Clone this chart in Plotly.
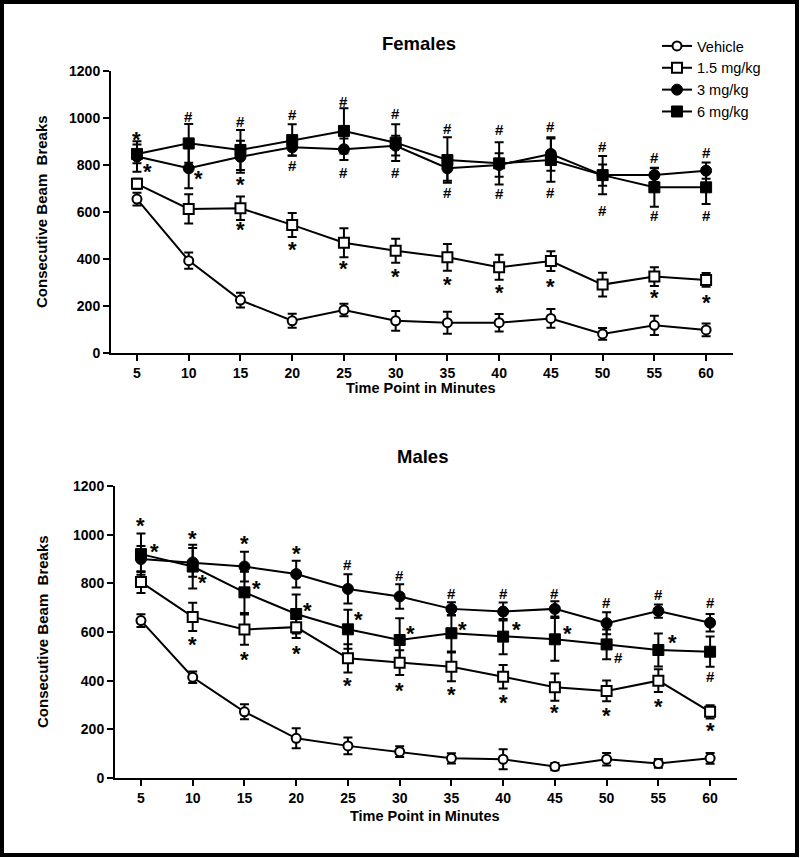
import plotly.graph_objects as go

# ---------------- data ----------------
time = [5, 10, 15, 20, 25, 30, 35, 40, 45, 50, 55, 60]
series_names = ["Vehicle", "1.5 mg/kg", "3 mg/kg", "6 mg/kg"]

# Females
f_vehicle = [655, 393, 225, 137, 183, 137, 129, 129, 147, 81, 118, 98]
f_vehicle_err = [27, 35, 31, 30, 27, 42, 47, 37, 40, 25, 41, 27]
f_15 = [720, 613, 616, 545, 469, 435, 407, 365, 391, 291, 325, 311]
f_15_err = [22, 62, 50, 51, 62, 51, 57, 53, 42, 51, 40, 29]
f_3 = [836, 786, 835, 875, 867, 882, 786, 800, 847, 757, 757, 776]
f_3_err = [65, 85, 68, 35, 46, 42, 53, 50, 71, 45, 29, 35]
f_6 = [847, 892, 864, 906, 945, 895, 821, 807, 821, 757, 705, 705]
f_6_err = [40, 82, 85, 67, 96, 78, 97, 90, 92, 81, 83, 71]

# Males
m_vehicle = [647, 414, 272, 163, 132, 108, 81, 77, 47, 77, 60, 81]
m_vehicle_err = [26, 24, 31, 41, 34, 22, 21, 41, 15, 26, 18, 22]
m_15 = [805, 662, 610, 620, 492, 474, 457, 416, 373, 358, 400, 272]
m_15_err = [45, 58, 62, 45, 58, 51, 59, 48, 56, 43, 47, 27]
m_3 = [900, 886, 869, 838, 777, 746, 695, 684, 695, 636, 686, 638]
m_3_err = [53, 59, 61, 55, 60, 50, 27, 37, 31, 45, 27, 36]
m_6 = [920, 869, 763, 674, 611, 567, 595, 581, 570, 549, 526, 519]
m_6_err = [85, 90, 85, 80, 80, 89, 75, 72, 88, 61, 68, 62]

# significance marks (x in minutes, y in beam breaks, symbol)
f_sig_x = [5, 6.06, 10, 10.9, 15, 15, 15, 20, 20, 20, 25, 25, 25, 30, 30, 30,
           35, 35, 35, 40, 40, 40, 45, 45, 45, 50, 50, 55, 55, 55, 60, 60, 60]
f_sig_y = [923, 787, 1008, 754, 984, 729, 537, 1016, 797, 452, 1072, 769, 374,
           1020, 770, 340, 957, 681, 303, 949, 677, 272, 962, 681, 294, 877, 608,
           830, 583, 247, 855, 587, 226]
f_sig_t = ["*", "*", "#", "*", "#", "*", "*", "#", "#", "*", "#", "#", "*", "#", "#", "*",
           "#", "#", "*", "#", "#", "*", "#", "#", "*", "#", "#", "#", "#", "*", "#", "#", "*"]

m_sig_x = [5, 6.29, 10, 10.94, 10, 15, 16.13, 15, 20, 21.09, 20, 25, 26.0, 25,
           30, 31.03, 30, 35, 36.03, 35, 40, 41.32, 40, 45, 46.19, 45,
           50, 51.19, 50, 55, 56.32, 55, 60, 60, 60]
m_sig_y = [1052, 942, 997, 814, 562, 975, 790, 499, 934, 702, 526, 878, 663, 392,
           834, 605, 371, 759, 622, 355, 759, 622, 321, 759, 608, 280,
           721, 496, 268, 755, 570, 307, 721, 416, 208]
m_sig_t = ["*", "*", "*", "*", "*", "*", "*", "*", "*", "*", "*", "#", "*", "*",
           "#", "*", "*", "#", "*", "*", "#", "*", "*", "#", "*", "*",
           "#", "#", "*", "#", "*", "*", "#", "#", "*"]

y_ticks = [0, 200, 400, 600, 800, 1000, 1200]

# ---------------- figure ----------------
W, H = 800, 858
FONT = "Liberation Sans, Arial, sans-serif"
TOP_OFF, V_AREA = 8, 842   # observed vertical placement of the drawing area


def fx(p):
    return p / W


def fy(p):
    return 1 - (p - TOP_OFF) / V_AREA


styles = [
    dict(symbol="circle", size=9, color="white", line=dict(color="black", width=2)),
    dict(symbol="square", size=10, color="white", line=dict(color="black", width=2)),
    dict(symbol="circle", size=11, color="black", line=dict(color="black", width=1)),
    dict(symbol="square", size=11, color="black", line=dict(color="black", width=1)),
]

fig = go.Figure()

panels = [
    ("x", "y", [f_vehicle, f_15, f_3, f_6], [f_vehicle_err, f_15_err, f_3_err, f_6_err], True),
    ("x2", "y2", [m_vehicle, m_15, m_3, m_6], [m_vehicle_err, m_15_err, m_3_err, m_6_err], False),
]
for xa, ya, vals, errs, show in panels:
    for i in [3, 2, 1, 0]:
        fig.add_trace(go.Scatter(
            x=time, y=vals[i], xaxis=xa, yaxis=ya, mode="lines+markers",
            name=series_names[i], showlegend=show, legendrank=i + 1,
            line=dict(color="black", width=2), marker=styles[i],
            error_y=dict(type="data", array=errs[i], color="black", thickness=2, width=4.5),
        ))

axis_common = dict(
    showline=True, linecolor="black", linewidth=2, ticks="outside", ticklen=6,
    tickwidth=2, tickcolor="black", showgrid=False, zeroline=False,
    tickfont=dict(family=FONT, size=14, color="black", weight="bold"),
)

fig.update_layout(
    width=W, height=H, margin=dict(l=0, r=0, t=0, b=0),
    paper_bgcolor="white", plot_bgcolor="white",
    xaxis=dict(domain=[fx(111), fx(733)], range=[2.49, 62.6], tickvals=time, anchor="y", **axis_common),
    yaxis=dict(domain=[fy(353), fy(71)], range=[0, 1200], tickvals=y_ticks, anchor="x", **axis_common),
    xaxis2=dict(domain=[fx(115), fx(737)], range=[2.49, 62.6], tickvals=time, anchor="y2", **axis_common),
    yaxis2=dict(domain=[fy(778), fy(486)], range=[0, 1200], tickvals=y_ticks, anchor="x2", **axis_common),
    legend=dict(x=fx(657), y=fy(30), xanchor="left", yanchor="top",
                font=dict(family=FONT, size=14.5, color="black"),
                bgcolor="rgba(0,0,0,0)", itemwidth=30, tracegroupgap=0),
    showlegend=True,
)

ann = []
for xs, ys, ts, xr, yr in [(f_sig_x, f_sig_y, f_sig_t, "x", "y"), (m_sig_x, m_sig_y, m_sig_t, "x2", "y2")]:
    for x, y, t in zip(xs, ys, ts):
        if t == "*":
            ann.append(dict(x=x, y=y, xref=xr, yref=yr, text="*", showarrow=False, yshift=-3,
                            font=dict(family=FONT, size=22, color="black", weight="bold")))
        else:
            ann.append(dict(x=x, y=y, xref=xr, yref=yr, text="#", showarrow=False,
                            font=dict(family=FONT, size=15, color="black", weight="bold")))

# titles and axis titles
for txt, x, y, size, ang in [
    ("Females", 419, 43, 18.5, 0), ("Males", 422, 456, 18.5, 0),
    ("Time Point in Minutes", 421, 388, 14.5, 0), ("Time Point in Minutes", 425, 816, 14.5, 0),
    ("Consecutive Beam\u00a0 Breaks", 41, 212, 15, -90), ("Consecutive Beam\u00a0 Breaks", 42, 632, 15, -90),
]:
    ann.append(dict(x=fx(x), y=fy(y), xref="paper", yref="paper", text=txt, showarrow=False,
                    textangle=ang, xanchor="center", yanchor="middle",
                    font=dict(family=FONT, size=size, color="black", weight="bold")))
fig.update_layout(annotations=ann)

fig.add_shape(type="rect", xref="paper", yref="paper", x0=fx(2), x1=fx(797), y0=fy(855), y1=fy(2),
              line=dict(color="black", width=4), fillcolor="rgba(0,0,0,0)")

page_css = (
    "var s=document.documentElement.style;s.margin='0';s.padding='0';s.overflow='hidden';"
    "var b=document.body.style;b.margin='0';b.padding='0';b.overflow='hidden';"
)
fig.write_html("out.html", config={"displayModeBar": False}, post_script=page_css)
